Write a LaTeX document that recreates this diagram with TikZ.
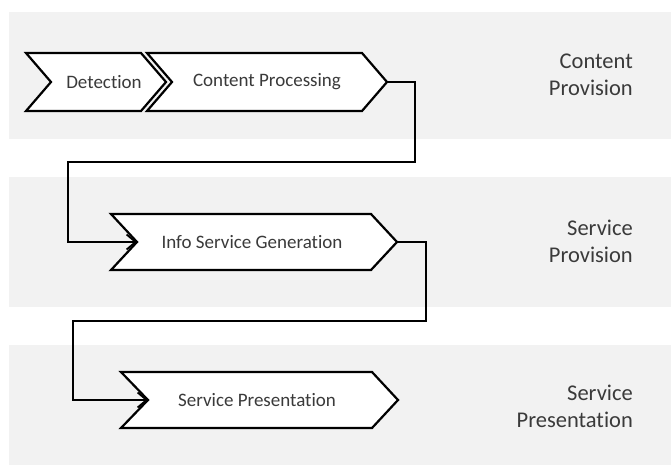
\documentclass[tikz,border=0pt]{standalone}
\usepackage{fontspec}
\setmainfont{Carlito}[Ligatures={NoCommon,NoRare}]
\usetikzlibrary{arrows.meta}
\definecolor{bandgray}{HTML}{F2F2F2}
\definecolor{txtgray}{HTML}{3A3A3A}
\begin{document}
\begin{tikzpicture}[x=1pt,y=-1pt,
  band/.style={fill=bandgray,draw=none},
  chevpath/.style={draw=black,fill=white,line width=2.2pt,line join=miter},
  chevtext/.style={text=txtgray,font=\fontsize{19}{23}\selectfont,inner sep=0pt},
  lanelabel/.style={text=txtgray,font=\fontsize{22.5}{27}\selectfont,align=right,anchor=east,inner sep=0pt},
  conn/.style={draw=black,line width=2pt,line join=miter},
  connarrow/.style={conn,-{Straight Barb[length=9pt,width=15pt,line width=1.8pt]}}]
\useasboundingbox (0,0) rectangle (671,465);
% bands
\fill[band] (9,12) rectangle (671,139);
\fill[band] (9,177) rectangle (671,307);
\fill[band] (9,345) rectangle (671,465);
% chevrons
\draw[chevpath] (26,53) -- (141,53) -- (166,82) -- (141,111) -- (26,111) -- (51,82) -- cycle;
\draw[chevpath] (147,53) -- (362,53) -- (387,82) -- (362,111) -- (147,111) -- (172,82) -- cycle;
\draw[chevpath] (111,214) -- (371,214) -- (397,242) -- (371,270) -- (111,270) -- (137,242) -- cycle;
\draw[chevpath] (121,372) -- (372,372) -- (398,400) -- (372,428) -- (121,428) -- (148,400) -- cycle;
% named points
\coordinate (cp-tip) at (387,82);
\coordinate (isg-notch) at (137,242);
\coordinate (isg-tip) at (397,242);
\coordinate (sp-notch) at (148,400);
% texts
\node[chevtext] (det) at (104,82) {Detection};
\node[chevtext] (cp) at (267,82) {Content Processing};
\node[chevtext] (isg) at (252,242) {Info Service Generation};
\node[chevtext] (sp) at (257,400) {Service Presentation};
\node[lanelabel] (l1) at (633,75) {Content\\Provision};
\node[lanelabel] (l2) at (633,241.5) {Service\\Provision};
\node[lanelabel] (l3) at (633,406) {Service\\Presentation};
% connectors
\draw[connarrow] (cp-tip) -- (415,82) -- (415,162) -- (68,162) |- (isg-notch);
\draw[connarrow] (isg-tip) -- (426,242) -- (426,321) -- (73,321) |- (sp-notch);
\end{tikzpicture}
\end{document}
